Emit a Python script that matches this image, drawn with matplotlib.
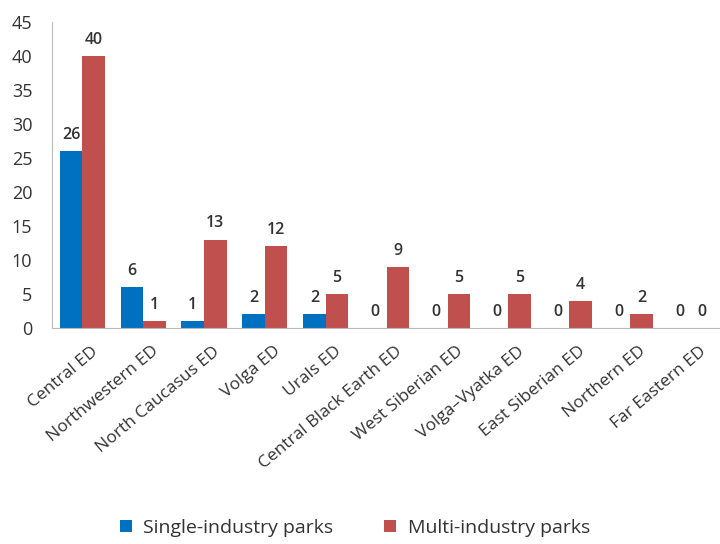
import numpy as np
import matplotlib.pyplot as plt

plt.rcParams['font.family'] = ['Open Sans', 'DejaVu Sans']

regions = ['Central ED', 'Northwestern ED', 'North Caucasus ED', 'Volga ED', 'Urals ED',
           'Central Black Earth ED', 'West Siberian ED', 'Volga\u2013Vyatka ED',
           'East Siberian ED', 'Northern ED', 'Far Eastern ED']
single = [26, 6, 1, 2, 2, 0, 0, 0, 0, 0, 0]
multi = [40, 1, 13, 12, 5, 9, 5, 5, 4, 2, 0]

blue = '#0070C0'
red = '#C0504D'

fig = plt.figure(figsize=(7.2, 5.44), dpi=100)
ax = fig.add_axes([0.072, 0.397, 0.93, 0.563])

x = np.arange(len(regions))
w = 0.37
b1 = ax.bar(x - w / 2, single, w, color=blue, label='Single-industry parks')
b2 = ax.bar(x + w / 2, multi, w, color=red, label='Multi-industry parks')

for bars in (b1, b2):
    for rect in bars:
        h = rect.get_height()
        ax.text(rect.get_x() + rect.get_width() / 2, h + 1.2, f'{int(h)}',
                ha='center', va='bottom', fontsize=11.5, color='#333333',
                fontweight='semibold')

ax.set_xlim(-0.5, len(regions) - 0.5)
ax.set_ylim(0, 45)
ax.set_yticks(range(0, 46, 5))
# labels sit a bit right of the group centre, like the original
ax.set_xticks(x + 0.14)
ax.set_xticklabels(regions, rotation=40, ha='right', rotation_mode='anchor',
                   fontsize=12.5, color='#333333')
ax.tick_params(axis='y', length=0, labelsize=13, labelcolor='#333333', pad=14)
ax.tick_params(axis='x', length=0, pad=11)

for s in ['top', 'right']:
    ax.spines[s].set_visible(False)
ax.spines['left'].set_color('#BBBBBB')
ax.spines['bottom'].set_color('#BBBBBB')

fig.legend(handles=[b1, b2], loc='center', bbox_to_anchor=(0.493, 0.03), ncol=2,
           frameon=False, fontsize=14, handlelength=0.6, handleheight=0.6,
           columnspacing=2.6, handletextpad=0.6, labelcolor='#333333')

fig.savefig('out.png', dpi=100)
